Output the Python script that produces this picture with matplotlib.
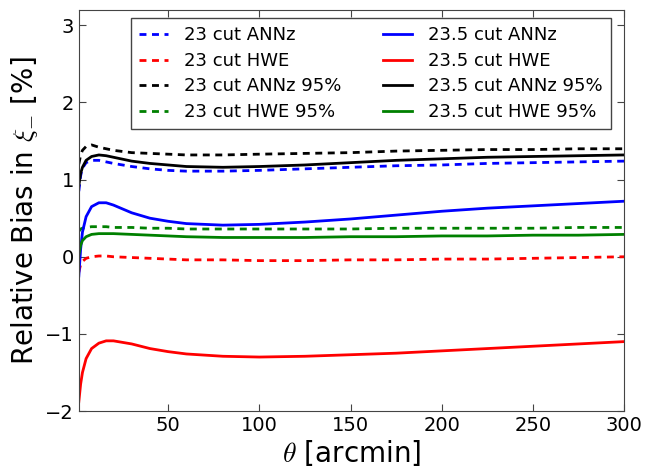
import numpy as np
import matplotlib
matplotlib.use("Agg")
import matplotlib.pyplot as plt

# angular scales [arcmin]
theta = [1, 2, 3, 5, 8, 12, 16, 20, 30, 40, 50, 60, 80, 100,
         125, 150, 175, 200, 225, 250, 275, 300]

# relative bias in xi_- [%], magnitude cut 23
annz_23 = [0.85, 1.05, 1.15, 1.22, 1.25, 1.25, 1.23, 1.21, 1.17, 1.14, 1.12,
           1.11, 1.11, 1.12, 1.14, 1.16, 1.18, 1.19, 1.21, 1.22, 1.23, 1.24]
hwe_23 = [-0.20, -0.10, -0.06, -0.02, 0.00, 0.01, 0.01, 0.00, -0.01, -0.02, -0.03,
          -0.04, -0.04, -0.05, -0.05, -0.04, -0.04, -0.03, -0.03, -0.02, -0.01, 0.00]
annz95_23 = [1.20, 1.32, 1.38, 1.43, 1.45, 1.42, 1.40, 1.38, 1.35, 1.34, 1.33,
             1.32, 1.32, 1.33, 1.34, 1.35, 1.37, 1.38, 1.39, 1.39, 1.40, 1.40]
hwe95_23 = [0.33, 0.36, 0.37, 0.38, 0.39, 0.39, 0.39, 0.38, 0.38, 0.37, 0.37,
            0.36, 0.36, 0.36, 0.36, 0.36, 0.37, 0.37, 0.37, 0.37, 0.38, 0.38]

# magnitude cut 23.5
annz_235 = [-0.25, 0.10, 0.32, 0.52, 0.65, 0.70, 0.70, 0.67, 0.57, 0.50, 0.46,
            0.43, 0.41, 0.42, 0.45, 0.49, 0.54, 0.59, 0.63, 0.66, 0.69, 0.72]
hwe_235 = [-1.88, -1.65, -1.50, -1.32, -1.19, -1.12, -1.09, -1.09, -1.13, -1.19, -1.23,
           -1.26, -1.29, -1.30, -1.29, -1.27, -1.25, -1.22, -1.19, -1.16, -1.13, -1.10]
annz95_235 = [0.92, 1.08, 1.16, 1.25, 1.30, 1.32, 1.31, 1.29, 1.24, 1.21, 1.19,
              1.17, 1.16, 1.17, 1.19, 1.22, 1.25, 1.27, 1.29, 1.30, 1.31, 1.32]
hwe95_235 = [0.02, 0.15, 0.21, 0.26, 0.29, 0.30, 0.30, 0.30, 0.29, 0.28, 0.27,
             0.26, 0.25, 0.25, 0.25, 0.26, 0.26, 0.27, 0.27, 0.28, 0.28, 0.29]

plt.rcParams["lines.scale_dashes"] = False
plt.rcParams["font.family"] = "DejaVu Sans"
plt.rcParams["mathtext.fontset"] = "cm"

fig = plt.figure(figsize=(6.46, 4.73), dpi=100)
ax = fig.add_axes([0.122, 0.131, 0.844, 0.848])

dash = (0, (5, 4))
ax.plot(theta, annz_23, color="b", lw=2, ls=dash, label="23 cut ANNz")
ax.plot(theta, hwe_23, color="r", lw=2, ls=dash, label="23 cut HWE")
ax.plot(theta, annz95_23, color="k", lw=2, ls=dash, label="23 cut ANNz 95%")
ax.plot(theta, hwe95_23, color="g", lw=2, ls=dash, label="23 cut HWE 95%")
ax.plot(theta, annz_235, color="b", lw=2, label="23.5 cut ANNz")
ax.plot(theta, hwe_235, color="r", lw=2, label="23.5 cut HWE")
ax.plot(theta, annz95_235, color="k", lw=2, label="23.5 cut ANNz 95%")
ax.plot(theta, hwe95_235, color="g", lw=2, label="23.5 cut HWE 95%")

ax.set_xlim(1, 300)
ax.set_ylim(-2, 3.2)
ax.set_xticks([50, 100, 150, 200, 250, 300])
ax.set_yticks([-2, -1, 0, 1, 2, 3])
ax.tick_params(direction="in", top=True, right=True, length=5,
               labelsize=14, color="#444444")
for s in ax.spines.values():
    s.set_color("#444444")

ax.set_xlabel(r"$\theta$ [arcmin]", fontsize=20, labelpad=2)
ax.set_ylabel(r"Relative Bias in $\xi_{-}$ [%]", fontsize=20)

leg = ax.legend(ncol=2, fontsize=13, handlelength=1.6, handletextpad=0.9,
                loc="upper right", bbox_to_anchor=(0.992, 1.002),
                fancybox=False, framealpha=1, edgecolor="#444444",
                columnspacing=2.3, borderpad=0.45, labelspacing=0.42)
leg.get_frame().set_linewidth(1)

fig.savefig("out.png", dpi=100)
